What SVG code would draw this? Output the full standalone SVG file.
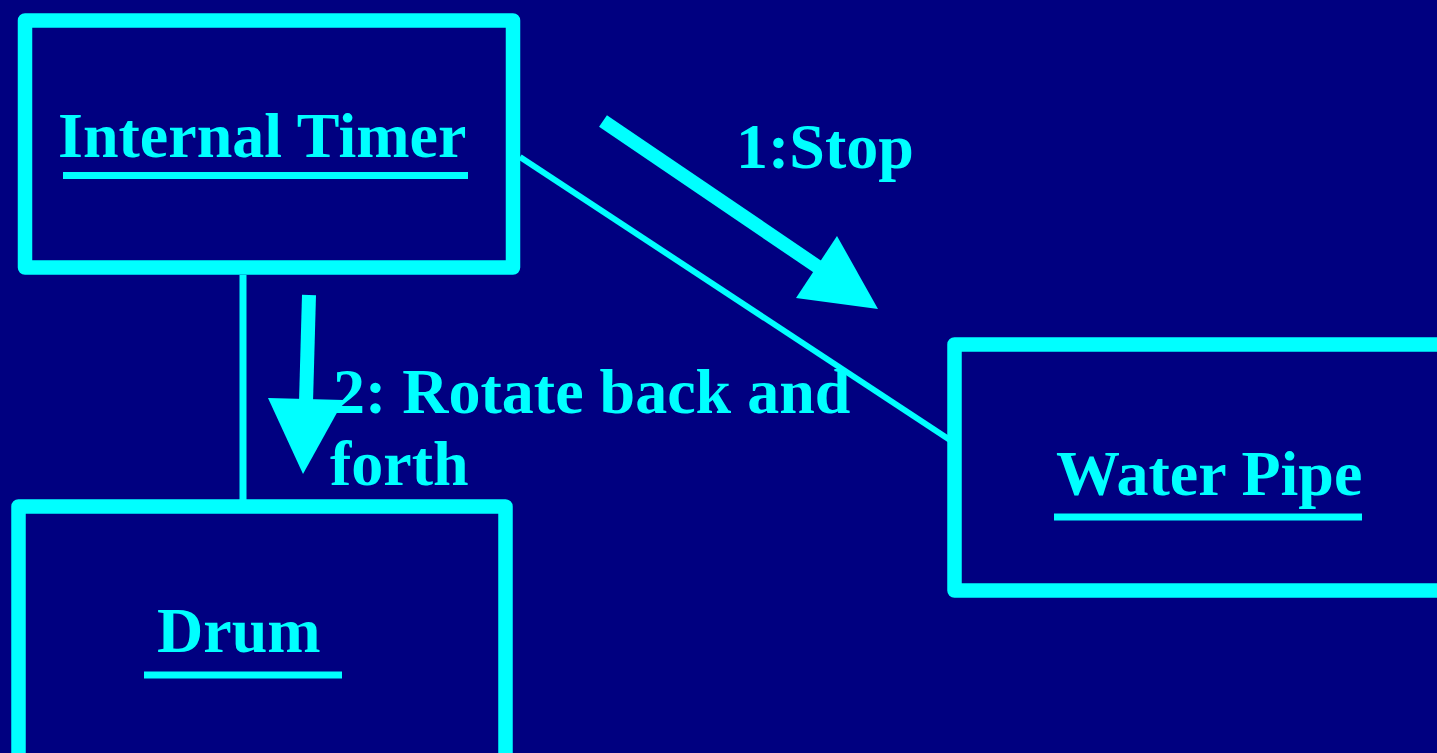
<svg xmlns="http://www.w3.org/2000/svg" width="1437" height="753" viewBox="0 0 1437 753">
<style>
.box{fill:none;stroke:#00FFFF;stroke-width:14.5;stroke-linejoin:round}
.t{font-family:"Liberation Serif","Times New Roman",serif;font-weight:bold;font-size:64px;fill:#00FFFF}
.ul{stroke:#00FFFF;stroke-width:7}
.ln{stroke:#00FFFF;fill:none}
.ah{fill:#00FFFF}
</style>
<rect width="1437" height="753" fill="#000080"/>
<g id="connectors">
<line class="ln" x1="243" y1="275" x2="243" y2="500" stroke-width="7"/>
<line class="ln" x1="520" y1="157" x2="950" y2="440" stroke-width="6"/>
<g id="msg1">
<line class="ln" x1="603" y1="121" x2="818" y2="267" stroke-width="14"/>
<polygon class="ah" points="796,298 837,236 878,309"/>
</g>
<g id="msg2">
<line class="ln" x1="309" y1="295" x2="306" y2="402" stroke-width="14"/>
<polygon class="ah" points="268,398 344,400 303,474"/>
</g>
</g>
<g id="internal-timer">
<rect class="box" x="25" y="20.5" width="488" height="247"/>
<text class="t" x="58" y="157">Internal Timer</text>
<line class="ul" x1="63" y1="175.5" x2="468" y2="175.5"/>
</g>
<g id="water-pipe">
<rect class="box" x="954.5" y="344.5" width="500" height="246"/>
<text class="t" x="1056" y="495">Water Pipe</text>
<line class="ul" x1="1054" y1="517" x2="1362" y2="517"/>
</g>
<g id="drum">
<rect class="box" x="18.5" y="506.5" width="487" height="270"/>
<text class="t" x="157" y="652">Drum</text>
<line class="ul" x1="144" y1="675" x2="342" y2="675"/>
</g>
<g id="labels">
<text class="t" x="736" y="168">1:Stop</text>
<text class="t" x="333" y="413">2: Rotate back and</text>
<text class="t" x="330" y="485">forth</text>
</g>
</svg>
